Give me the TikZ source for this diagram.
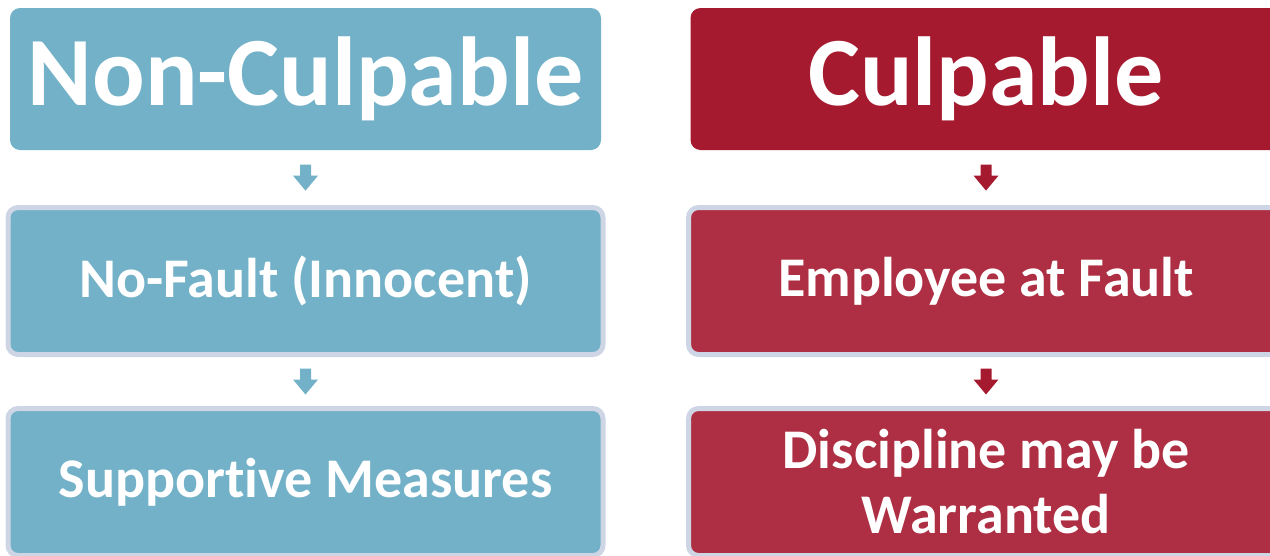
\documentclass[tikz,border=0pt]{standalone}
\usepackage{fontspec}
\setmainfont{Carlito}[Ligatures={NoCommon}]
\usetikzlibrary{calc,positioning}
\definecolor{ncblue}{HTML}{72B1C8}
\definecolor{cred}{HTML}{A51A2F}
\definecolor{credlight}{HTML}{AE2F43}
\definecolor{rim}{HTML}{CED6E6}
\tikzset{
	down/.pic={
		\fill (-5.5,-13) -- (5.5,-13) -- (5.5,-2) -- (12.5,-2) -- (0,13) -- (-12.5,-2) -- (-5.5,-2) -- cycle;
	}
}

\begin{document}
\begin{tikzpicture}[x=1pt, y=-1pt, line join=round,
	head/.style={rounded corners=10pt, text=white, minimum width=591pt, minimum height=142pt, inner sep=0pt,
		font=\bfseries\fontsize{98}{100}\selectfont},
	stage/.style={rounded corners=10pt, text=white, draw=rim, line width=5pt, minimum width=595pt,
		minimum height=147pt, inner sep=0pt, align=center, font=\bfseries\fontsize{56}{65}\selectfont}]
	\def \lx{305.5} \def \rx{986}
	\clip (0,0) rectangle (1270,555);
	\useasboundingbox (0,0) rectangle (1270,555);
	% non-culpable column
	\node[head, fill=ncblue] (nc) at (\lx,79) {Non-Culpable};
	\node[stage, fill=ncblue] (nf) at (\lx,281) {No-Fault (Innocent)};
	\node[stage, fill=ncblue] (sm) at (\lx,482) {Supportive Measures};
	% culpable column
	\node[head, fill=cred] (cu) at (\rx,79) {Culpable};
	\node[stage, fill=credlight] (ef) at (\rx,281) {Employee at Fault};
	\node[stage, fill=credlight] (dw) at (\rx,482) {Discipline may be\\Warranted};
	% arrows
	\pic[color=ncblue] at ($(nc.south)!0.5!(nf.north)$) {down};
	\pic[color=ncblue] at ($(nf.south)!0.5!(sm.north)$) {down};
	\pic[color=cred] at ($(cu.south)!0.5!(ef.north)$) {down};
	\pic[color=cred] at ($(ef.south)!0.5!(dw.north)$) {down};
\end{tikzpicture}
\end{document}
